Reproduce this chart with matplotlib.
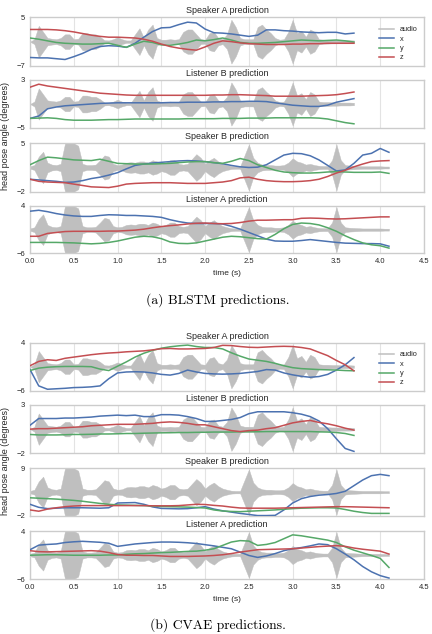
import numpy as np
import matplotlib
matplotlib.use("Agg")
import matplotlib.pyplot as plt
from matplotlib.lines import Line2D

# ---------------- time grids ----------------
t_A = np.round(np.arange(0, 3.71, 0.1), 2)   # Speaker A / Listener B clips
t_B = np.round(np.arange(0, 4.11, 0.1), 2)   # Speaker B / Listener A clips

# ---------------- audio envelopes (fraction of panel half-height) ----------------
audio_t_A = np.round(np.arange(0, 3.701, 0.05), 3)
audio_env_A = [0.0, 0.1, 0.65, 0.4, 0.15, 0.12, 0.1, 0.15, 0.3, 0.3,
               0.1, 0.12, 0.35, 0.35, 0.3, 0.3, 0.2, 0.06, 0.05, 0.1,
               0.18, 0.1, 0.05, 0.05, 0.3, 0.55, 0.15, 0.5, 0.7, 0.15,
               0.08, 0.08, 0.1, 0.08, 0.1, 0.4, 0.5, 0.5, 0.3, 0.1,
               0.08, 0.35, 0.4, 0.15, 0.1, 0.3, 0.9, 0.6, 0.15, 0.1,
               0.1, 0.1, 0.6, 0.7, 0.5, 0.35, 0.15, 0.08, 0.1, 0.4,
               0.9, 0.35, 0.45, 0.2, 0.5, 0.4, 0.1, 0.08, 0.08, 0.07,
               0.07, 0.06, 0.06, 0.06, 0.05]
audio_t_B = np.round(np.arange(0, 4.101, 0.05), 3)
audio_env_B = [0.05, 0.1, 0.45, 0.65, 0.2, 0.12, 0.1, 0.15, 1.0, 1.0,
               1.0, 0.9, 0.15, 0.1, 0.1, 0.12, 0.3, 0.5, 0.45, 0.15,
               0.1, 0.12, 0.2, 0.22, 0.2, 0.25, 0.25, 0.2, 0.3, 0.25,
               0.15, 0.2, 0.3, 0.3, 0.15, 0.12, 0.15, 0.35, 0.55, 0.4,
               0.15, 0.3, 0.4, 0.25, 0.15, 0.1, 0.06, 0.05, 0.05, 0.5,
               0.95, 0.4, 0.2, 0.12, 0.1, 0.1, 0.08, 0.08, 0.1, 0.2,
               0.38, 0.25, 0.2, 0.12, 0.15, 0.1, 0.07, 0.06, 0.06, 0.3,
               0.95, 0.3, 0.1, 0.08, 0.07, 0.06, 0.05, 0.05, 0.05, 0.05,
               0.05, 0.04, 0.04]

# ---------------- (a) BLSTM ----------------
blstm_spkA_x = [-4.9, -5.0, -5.0, -5.2, -5.4, -4.7, -3.9, -2.9, -2.2, -2.0,
                -2.1, -2.4, -1.4, 0.1, 1.5, 2.4, 2.5, 3.2, 3.8, 3.6,
                2.1, 1.2, 1.1, 0.9, 0.6, 0.3, 0.6, 1.9, 1.9, 1.7,
                1.6, 1.4, 1.3, 1.2, 1.3, 1.3, 0.9, 1.1]
blstm_spkA_y = [-0.1, -0.4, -0.8, -1.2, -1.4, -1.5, -1.6, -1.6, -1.5, -1.4,
                -1.9, -2.4, -1.6, -0.9, -1.2, -1.8, -1.9, -1.6, -1.2, -0.6,
                -0.8, -0.5, -0.1, -0.6, -1.2, -1.4, -1.4, -1.3, -1.2, -1.0,
                -0.8, -0.6, -0.7, -0.8, -0.7, -0.6, -0.8, -1.1]
blstm_spkA_z = [2.0, 2.0, 2.0, 1.9, 1.7, 1.4, 1.0, 0.6, 0.3, 0.1,
                0.1, 0.0, -0.1, -0.4, -0.9, -1.6, -2.2, -2.6, -2.9, -3.1,
                -2.3, -1.4, -0.8, -1.0, -1.3, -1.5, -1.6, -1.7, -1.7, -1.7,
                -1.6, -1.6, -1.5, -1.5, -1.4, -1.4, -1.4, -1.4]

blstm_lisB_x = [-3.4, -3.0, -1.8, -1.5, -1.3, -1.2, -1.1, -1.0, -0.9, -0.85,
                -0.8, -0.8, -0.8, -0.8, -0.8, -0.8, -0.75, -0.75, -0.7, -0.7,
                -0.7, -0.65, -0.65, -0.6, -0.6, -0.55, -0.55, -0.6, -0.8, -1.0,
                -1.2, -1.3, -1.4, -1.4, -1.2, -0.7, -0.4, -0.1]
blstm_lisB_y = [-3.4, -3.35, -3.3, -3.4, -3.6, -3.7, -3.7, -3.7, -3.65, -3.6,
                -3.6, -3.55, -3.5, -3.5, -3.5, -3.5, -3.5, -3.5, -3.45, -3.45,
                -3.45, -3.45, -3.4, -3.4, -3.4, -3.35, -3.35, -3.35, -3.3, -3.3,
                -3.3, -3.3, -3.3, -3.35, -3.5, -3.8, -4.1, -4.3]
blstm_lisB_z = [1.8, 2.3, 2.0, 1.8, 1.6, 1.4, 1.2, 1.0, 0.8, 0.7,
                0.6, 0.5, 0.45, 0.45, 0.45, 0.45, 0.45, 0.45, 0.45, 0.45,
                0.45, 0.5, 0.5, 0.55, 0.55, 0.5, 0.45, 0.4, 0.3, 0.3,
                0.3, 0.3, 0.35, 0.4, 0.45, 0.55, 0.75, 1.0]

blstm_spkB_x = [-0.2, -0.3, -0.4, -0.5, -0.65, -0.6, -0.4, -0.1, 0.1, 0.4,
                0.75, 1.3, 1.8, 2.0, 2.15, 2.25, 2.35, 2.45, 2.5, 2.45,
                2.35, 2.2, 2.05, 1.8, 1.6, 1.5, 1.55, 1.9, 2.6, 3.3,
                3.55, 3.5, 3.2, 2.6, 1.8, 1.0, 1.15, 2.1, 3.3, 3.55,
                4.25, 3.7]
blstm_spkB_y = [1.9, 2.5, 3.0, 2.9, 2.75, 2.6, 2.55, 2.5, 2.7, 2.4,
                2.1, 2.05, 2.0, 2.0, 2.0, 2.05, 2.1, 2.2, 2.3, 2.35,
                2.35, 2.2, 2.1, 2.4, 2.8, 2.5, 1.9, 1.5, 1.1, 0.85,
                0.75, 0.7, 0.7, 0.75, 0.85, 0.9, 0.85, 0.8, 0.8, 0.8,
                0.85, 0.65]
blstm_spkB_z = [-0.2, -0.5, -0.6, -0.65, -0.7, -0.9, -1.1, -1.3, -1.35, -1.4,
                -1.2, -0.9, -0.8, -0.75, -0.7, -0.7, -0.7, -0.75, -0.8, -0.8,
                -0.8, -0.7, -0.6, -0.4, 0.0, 0.1, -0.2, -0.4, -0.5, -0.55,
                -0.55, -0.5, -0.4, -0.2, 0.2, 0.7, 1.1, 1.6, 2.0, 2.35,
                2.45, 2.5]

blstm_lisA_x = [2.9, 3.1, 2.8, 2.4, 2.1, 1.9, 1.8, 1.8, 2.0, 2.15,
                2.1, 2.0, 2.0, 1.9, 1.8, 1.6, 1.1, 0.7, 0.4, 0.3,
                0.3, 0.3, 0.2, -0.3, -0.9, -1.6, -2.3, -3.0, -3.4, -3.45,
                -3.45, -3.3, -3.1, -3.3, -3.5, -3.7, -3.85, -3.9, -3.95, -3.95,
                -4.0, -4.5]
blstm_lisA_y = [-3.7, -3.7, -3.7, -3.7, -3.75, -3.8, -3.9, -4.0, -3.9, -3.7,
                -3.4, -3.0, -2.6, -2.4, -2.5, -2.9, -3.6, -3.9, -3.95, -3.8,
                -3.4, -3.0, -2.6, -2.4, -2.5, -2.7, -2.9, -3.0, -2.0, -0.8,
                0.1, 0.4, 0.3, 0.0, -0.6, -1.35, -2.3, -3.1, -3.8, -4.2,
                -4.4, -4.9]
blstm_lisA_z = [-2.4, -2.4, -1.8, -1.6, -1.4, -1.35, -1.35, -1.35, -1.35, -1.3,
                -1.3, -1.2, -1.1, -0.9, -0.6, -0.35, -0.15, 0.0, 0.2, 0.35,
                0.4, 0.3, 0.25, 0.3, 0.5, 0.8, 1.0, 1.0, 1.05, 1.1,
                1.1, 1.4, 1.45, 1.4, 1.3, 1.25, 1.3, 1.4, 1.5, 1.6,
                1.7, 1.7]

# ---------------- (b) CVAE ----------------
cvae_spkA_x = [-1.6, -5.0, -5.7, -5.6, -5.5, -5.35, -5.3, -5.2, -5.0, -3.5,
               -2.3, -2.1, -2.05, -2.1, -2.3, -2.6, -2.75, -2.4, -1.7, -2.1,
               -2.4, -2.5, -2.55, -2.5, -2.4, -2.2, -2.0, -1.6, -1.7, -2.3,
               -2.7, -3.0, -3.2, -3.05, -2.6, -1.7, -0.6, 0.9]
cvae_spkA_y = [-1.8, -1.3, -1.1, -1.0, -0.95, -0.95, -0.95, -1.0, -1.5, -1.8,
               -0.9, 0.0, 1.0, 1.8, 2.4, 2.85, 3.15, 3.35, 3.5, 3.2,
               3.0, 3.0, 2.7, 1.9, 1.2, 0.6, 0.35, 0.1, -0.3, -0.8,
               -1.2, -1.4, -1.5, -1.6, -1.65, -1.7, -1.8, -1.85]
cvae_spkA_z = [-0.8, 0.1, 0.45, 0.3, 0.75, 1.0, 1.25, 1.5, 1.7, 1.85,
               1.95, 2.1, 2.2, 2.3, 2.5, 2.75, 2.8, 2.7, 2.7, 2.75,
               2.8, 3.0, 3.45, 3.4, 3.2, 3.05, 3.0, 3.1, 3.2, 3.25,
               3.2, 3.0, 2.7, 2.0, 1.3, 0.3, -0.6, -1.85]

cvae_lisB_x = [0.9, 1.6, 1.6, 1.6, 1.65, 1.65, 1.7, 1.75, 1.85, 1.9,
               1.95, 1.9, 1.95, 1.8, 1.8, 2.0, 2.0, 1.95, 1.8, 1.6,
               1.3, 1.3, 1.4, 1.5, 1.7, 2.1, 2.3, 2.3, 2.3, 2.3,
               2.2, 2.05, 1.8, 1.35, 0.55, -0.5, -1.5, -1.8]
cvae_lisB_y = [-0.05, -0.1, -0.1, -0.1, -0.08, -0.05, -0.05, -0.03, 0.0, 0.0,
               0.02, 0.05, 0.05, 0.08, 0.1, 0.12, 0.13, 0.15, 0.15, 0.17,
               0.18, 0.2, 0.2, 0.2, 0.22, 0.22, 0.23, 0.25, 0.25, 0.25,
               0.25, 0.25, 0.25, 0.22, 0.2, 0.15, 0.05, -0.15]
cvae_lisB_z = [0.5, 0.55, 0.55, 0.6, 0.65, 0.7, 0.75, 0.85, 0.9, 0.95,
               1.0, 1.0, 1.0, 1.05, 1.1, 1.2, 1.25, 1.2, 1.1, 0.95,
               0.95, 0.75, 0.55, 0.35, 0.25, 0.35, 0.4, 0.55, 0.65, 0.9,
               1.15, 1.3, 1.4, 1.2, 1.05, 0.85, 0.6, 0.4]

cvae_spkB_x = [0.7, 0.0, -0.3, -0.2, -0.1, -0.1, -0.1, -0.15, -0.2, -0.1,
               1.0, 1.05, 1.1, 0.7, 0.1, -0.25, -0.3, -0.35, -0.3, -0.1,
               0.15, -0.4, -0.8, -1.1, -1.4, -1.65, -1.9, -1.9, -1.85, -0.6,
               1.0, 2.0, 2.5, 2.8, 2.95, 3.2, 3.7, 5.0, 6.3, 7.3,
               7.6, 7.3]
cvae_spkB_y = [2.2, 2.1, 2.0, 1.9, 1.75, 1.6, 1.4, 1.15, 0.9, 0.7,
               0.55, 0.5, 0.45, 0.4, 0.3, 0.2, 0.15, 0.1, 0.05, -0.05,
               -0.15, -0.6, -0.85, -0.95, -1.0, -0.9, -0.8, -0.7, -0.6, -0.45,
               -0.3, -0.2, -0.15, -0.1, -0.1, -0.15, -0.5, -0.9, -1.2, -1.4,
               -1.4, -1.4]
cvae_spkB_z = [-0.6, -0.9, -0.4, -0.1, 0.15, 0.3, 0.4, 0.4, 0.4, 0.4,
               0.4, 0.4, 0.4, 0.4, 0.35, 0.35, 0.35, 0.4, 0.55, 0.7,
               0.65, 0.45, 0.3, 0.05, -0.15, -0.2, -0.2, -0.2, -0.2, -0.15,
               -0.1, -0.05, 0.0, 0.05, 0.1, 0.15, 0.15, 0.1, 0.05, 0.0,
               -0.05, -0.1]

cvae_lisA_x = [0.1, 1.05, 1.2, 1.3, 1.6, 1.75, 1.85, 1.75, 1.65, 1.45,
               0.8, 1.05, 1.3, 1.45, 1.6, 1.7, 1.7, 1.65, 1.55, 1.4,
               1.15, 0.9, 0.6, 0.3, -0.4, -1.1, -1.5, -1.2, -0.7, -0.1,
               0.3, 0.55, 0.9, 1.3, 1.15, 0.3, -0.8, -2.0, -3.4, -4.5,
               -5.3, -5.8]
cvae_lisA_y = [-1.05, -1.0, -0.95, -0.95, -1.0, -1.05, -1.05, -1.05, -1.05, -1.0,
               -1.0, -0.85, -0.75, -0.7, -0.6, -0.5, -0.45, -0.35, -0.25, -0.2,
               0.0, 0.3, 1.0, 1.7, 2.0, 1.9, 1.0, 1.2, 1.6, 2.4,
               3.2, 3.0, 2.7, 2.4, 2.1, 1.6, 0.7, 0.0, -0.55, -1.1,
               -1.7, -3.6]
cvae_lisA_z = [-0.1, -0.3, -0.35, -0.3, -0.25, -0.2, -0.15, -0.1, -0.2, -0.5,
               -0.9, -1.05, -1.05, -1.1, -1.1, -1.2, -1.3, -1.3, -1.3, -1.25,
               -1.2, -1.1, -0.95, -0.7, -0.4, -0.15, 0.1, 0.15, 0.2, 0.25,
               0.3, 0.45, 0.6, 0.75, 0.85, 0.95, 0.8, 0.45, 0.2, 0.0,
               -0.2, -0.8]

panel_titles = ["Speaker A prediction", "Listener B prediction",
                "Speaker B prediction", "Listener A prediction"]
ylims_blstm = [(-7, 5), (-5, 3), (-2, 5), (-6, 4)]
ylims_cvae = [(-6, 4), (-2, 3), (-2, 9), (-6, 4)]
legend_labels = ["audio", "x", "y", "z"]
captions = ["(a) BLSTM predictions.", "(b) CVAE predictions."]

# ---------------- styling ----------------
plt.rcParams['font.family'] = ['Liberation Sans', 'DejaVu Sans']
BLUE, GREEN, RED, GRAY = '#4C72B0', '#55A868', '#C44E52', '#bfbfbf'
TXT = '#262626'
W, H = 432, 634
LEFT, RIGHT = 30, 424

fig = plt.figure(figsize=(W / 100, H / 100), dpi=100)


def panel(top, bottom, title, t, xs, ys, zs, at, env, ylim, show_x=False, legend=False):
    ax = fig.add_axes([LEFT / W, 1 - bottom / H, (RIGHT - LEFT) / W, (bottom - top) / H])
    lo, hi = ylim
    mid, half = (lo + hi) / 2, (hi - lo) / 2
    env = np.asarray(env)
    ax.fill_between(at, mid - env * half, mid + env * half, color=GRAY, lw=0.3,
                    edgecolor=GRAY, zorder=1)
    ax.plot(t, xs, color=BLUE, lw=1.1, zorder=3)
    ax.plot(t, ys, color=GREEN, lw=1.1, zorder=3)
    ax.plot(t, zs, color=RED, lw=1.1, zorder=3)
    ax.set_xlim(0, 4.5)
    ax.set_ylim(lo, hi)
    ax.set_yticks([lo, hi])
    ax.set_xticks(np.arange(0, 4.51, 0.5))
    ax.grid(axis='x', color='#e3e3e3', lw=0.8)
    ax.set_axisbelow(True)
    for s in ax.spines.values():
        s.set_color('#cccccc')
        s.set_linewidth(1.0)
    ax.tick_params(length=0, labelsize=5.5, colors=TXT, pad=3.5)
    if not show_x:
        ax.tick_params(labelbottom=False)
    else:
        ax.set_xlabel("time (s)", fontsize=6, color=TXT, labelpad=3.5)
    ax.set_title(title, fontsize=6.5, pad=3, color=TXT)
    if legend:
        handles = [Line2D([], [], color=c, lw=1.1) for c in (GRAY, BLUE, GREEN, RED)]
        ax.legend(handles, legend_labels, loc='center right', bbox_to_anchor=(1.0, 0.455),
                  frameon=False, fontsize=5.3, labelspacing=0.3, handlelength=2.0,
                  handletextpad=0.8, labelcolor=TXT)
    return ax


groups = [
    dict(rows=[(17.3, 66), (80, 128), (143.3, 191.7), (206, 253.3)],
         data=[(blstm_spkA_x, blstm_spkA_y, blstm_spkA_z),
               (blstm_lisB_x, blstm_lisB_y, blstm_lisB_z),
               (blstm_spkB_x, blstm_spkB_y, blstm_spkB_z),
               (blstm_lisA_x, blstm_lisA_y, blstm_lisA_z)],
         ylims=ylims_blstm, cap_y=300, ylab_y=135.5, caption=captions[0]),
    dict(rows=[(342.7, 390.7), (405, 453.3), (468.3, 516), (531, 579)],
         data=[(cvae_spkA_x, cvae_spkA_y, cvae_spkA_z),
               (cvae_lisB_x, cvae_lisB_y, cvae_lisB_z),
               (cvae_spkB_x, cvae_spkB_y, cvae_spkB_z),
               (cvae_lisA_x, cvae_lisA_y, cvae_lisA_z)],
         ylims=ylims_cvae, cap_y=625, ylab_y=461, caption=captions[1]),
]

for g in groups:
    for i, ((top, bot), (xs, ys, zs), yl) in enumerate(zip(g['rows'], g['data'], g['ylims'])):
        if i < 2:
            t, at, env = t_A, audio_t_A, audio_env_A
        else:
            t, at, env = t_B, audio_t_B, audio_env_B
        panel(top, bot, panel_titles[i], t, xs, ys, zs, at, env, yl,
              show_x=(i == 3), legend=(i == 0))
    fig.text(6 / W, 1 - g['ylab_y'] / H, "head pose angle (degrees)", rotation=90,
             ha='center', va='center', fontsize=6.5, color=TXT)
    fig.text(0.505, 1 - g['cap_y'] / H, g['caption'], ha='center', va='center',
             fontsize=9.8, family='cmr10', color='black')

fig.savefig("out.png", dpi=100)
